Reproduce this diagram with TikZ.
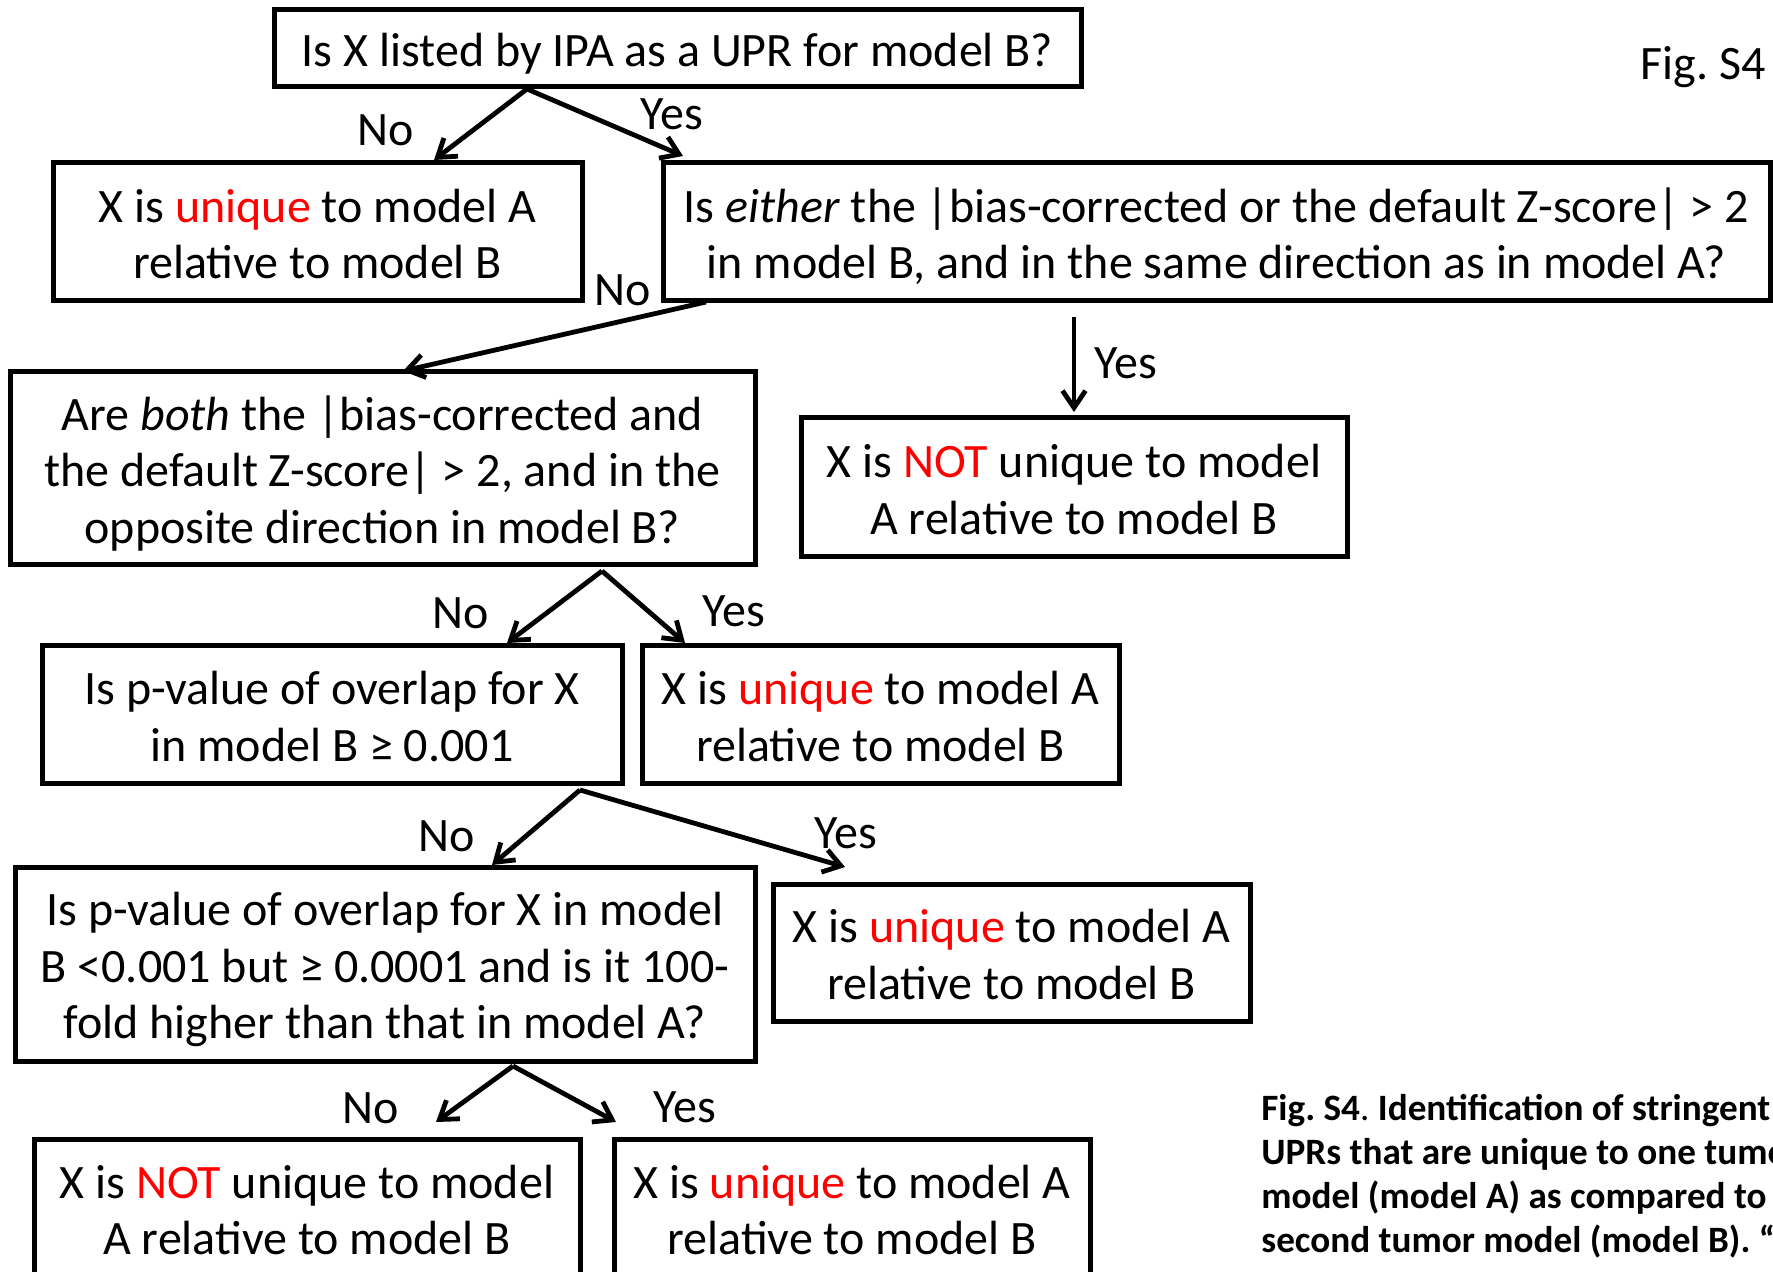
\documentclass[tikz,border=0pt]{standalone}
\usepackage{fontspec}
\setmainfont{Carlito}
\usetikzlibrary{arrows.meta}
\definecolor{hl}{RGB}{255,0,0}
\newcommand{\redword}[1]{\textcolor{hl}{#1}}
% fixed top and bottom struts so every box sets its text at the same offset
\newcommand{\upstrut}{\rule{0pt}{\dimexpr\fontcharht\font`\l+8pt\relax}}
\newcommand{\downstrut}{\rule[-6.3pt]{0pt}{0pt}}
\frenchspacing

\begin{document}
\begin{tikzpicture}[x=0.5pt,y=-0.5pt,
  box/.style={draw, line width=2.5pt, inner sep=0pt, align=center,
    font=\fontsize{24}{28.25}\selectfont},
  lbl/.style={font=\fontsize{24}{28}\selectfont, inner sep=0pt},
  captext/.style={font=\fontsize{18.6}{22}\selectfont\bfseries, inner sep=0pt, anchor=base west},
  arr/.style={line width=2.4pt, -{Straight Barb[length=8.5pt,width=11.5pt]}},
]
\useasboundingbox (0,0) rectangle (1773,1272);
\fill[white] (0,0) rectangle (1773,1272);

% decision and result boxes
\node[box, minimum width=403.5pt, minimum height=38.5pt] (q1) at (677.5,48.5)
  {\upstrut Is X listed by IPA as a UPR for model B?\downstrut};
\node[box, minimum width=264.5pt, minimum height=69pt] (r1) at (317.5,232)
  {\upstrut X is \redword{unique} to model A\\relative to model B\downstrut};
\node[box, minimum width=553.5pt, minimum height=69pt] (q2) at (1216.5,232)
  {\upstrut Is \emph{either} the |bias-corrected or the default Z-score| > 2\\in model B, and in the same direction as in model A?\downstrut};
\node[box, minimum width=372.5pt, minimum height=96.5pt] (q3) at (382.5,468.5)
  {\upstrut Are \emph{both} the |bias-corrected and\\the default Z-score| > 2, and in the\\opposite direction in model B?\downstrut};
\node[box, minimum width=273pt, minimum height=69.5pt] (r2) at (1074,487.5)
  {\upstrut X is \redword{NOT} unique to model\\A relative to model B\downstrut};
\node[box, minimum width=290pt, minimum height=68.5pt] (q4) at (332,714.5)
  {\upstrut Is p-value of overlap for X\\in model B ≥ 0.001\downstrut};
\node[box, minimum width=238.5pt, minimum height=68.5pt] (r3) at (880.5,714.5)
  {\upstrut X is \redword{unique} to model A\\relative to model B\downstrut};
\node[box, minimum width=370pt, minimum height=97pt] (q5) at (385,964)
  {\upstrut Is p-value of overlap for X in model\\B <0.001 but ≥ 0.0001 and is it 100-\\fold higher than that in model A?\downstrut};
\node[box, minimum width=238.5pt, minimum height=68.5pt] (r4) at (1011.5,952.5)
  {\upstrut X is \redword{unique} to model A\\relative to model B\downstrut};
\node[box, minimum width=273pt, minimum height=69pt] (r5) at (307,1208)
  {\upstrut X is \redword{NOT} unique to model\\A relative to model B\downstrut};
\node[box, minimum width=238pt, minimum height=69pt] (r6) at (852,1208)
  {\upstrut X is \redword{unique} to model A\\relative to model B\downstrut};

% connector end points
\coordinate (a1) at (527,89);
\coordinate (a1n) at (434,160);
\coordinate (a1y) at (683,156);
\coordinate (a2) at (706,302);
\coordinate (a2n) at (403,371);
\coordinate (a3) at (1074,317);
\coordinate (a3y) at (1074,412);
\coordinate (a4) at (602,571);
\coordinate (a4n) at (507,643);
\coordinate (a4y) at (685,643);
\coordinate (a5) at (580,790);
\coordinate (a5n) at (492,865);
\coordinate (a5y) at (845,867);
\coordinate (a6) at (513,1066);
\coordinate (a6n) at (436,1122);
\coordinate (a6y) at (616,1122);

\draw[arr] (a1) -- (a1n);
\draw[arr] (a1) -- (a1y);
\draw[arr] (a2) -- (a2n);
\draw[arr] (a3) -- (a3y);
\draw[arr] (a4) -- (a4n);
\draw[arr] (a4) -- (a4y);
\draw[arr] (a5) -- (a5n);
\draw[arr] (a5) -- (a5y);
\draw[arr] (a6) -- (a6n);
\draw[arr] (a6) -- (a6y);

% branch labels
\node[lbl] (l1n) at (386,130) {No};
\node[lbl] (l1y) at (672,114) {Yes};
\node[lbl] (l2n) at (623,290) {No};
\node[lbl] (l3y) at (1126,363) {Yes};
\node[lbl] (l4n) at (461,613) {No};
\node[lbl] (l4y) at (734,611) {Yes};
\node[lbl] (l5n) at (447,836) {No};
\node[lbl] (l5y) at (846,833) {Yes};
\node[lbl] (l6n) at (371,1108) {No};
\node[lbl] (l6y) at (685,1107) {Yes};

% figure tag and caption
\node[lbl, anchor=base east] (tag) at (1766,80) {Fig. S4};
\node[captext] (c1) at (1261,1120) {Fig. S4{\mdseries .} Identification of stringent};
\node[captext] (c2) at (1261,1164) {UPRs that are unique to one tumor};
\node[captext] (c3) at (1261,1208) {model (model A) as compared to};
\node[captext] (c4) at (1261,1252) {second tumor model (model B). “};
\end{tikzpicture}
\end{document}
